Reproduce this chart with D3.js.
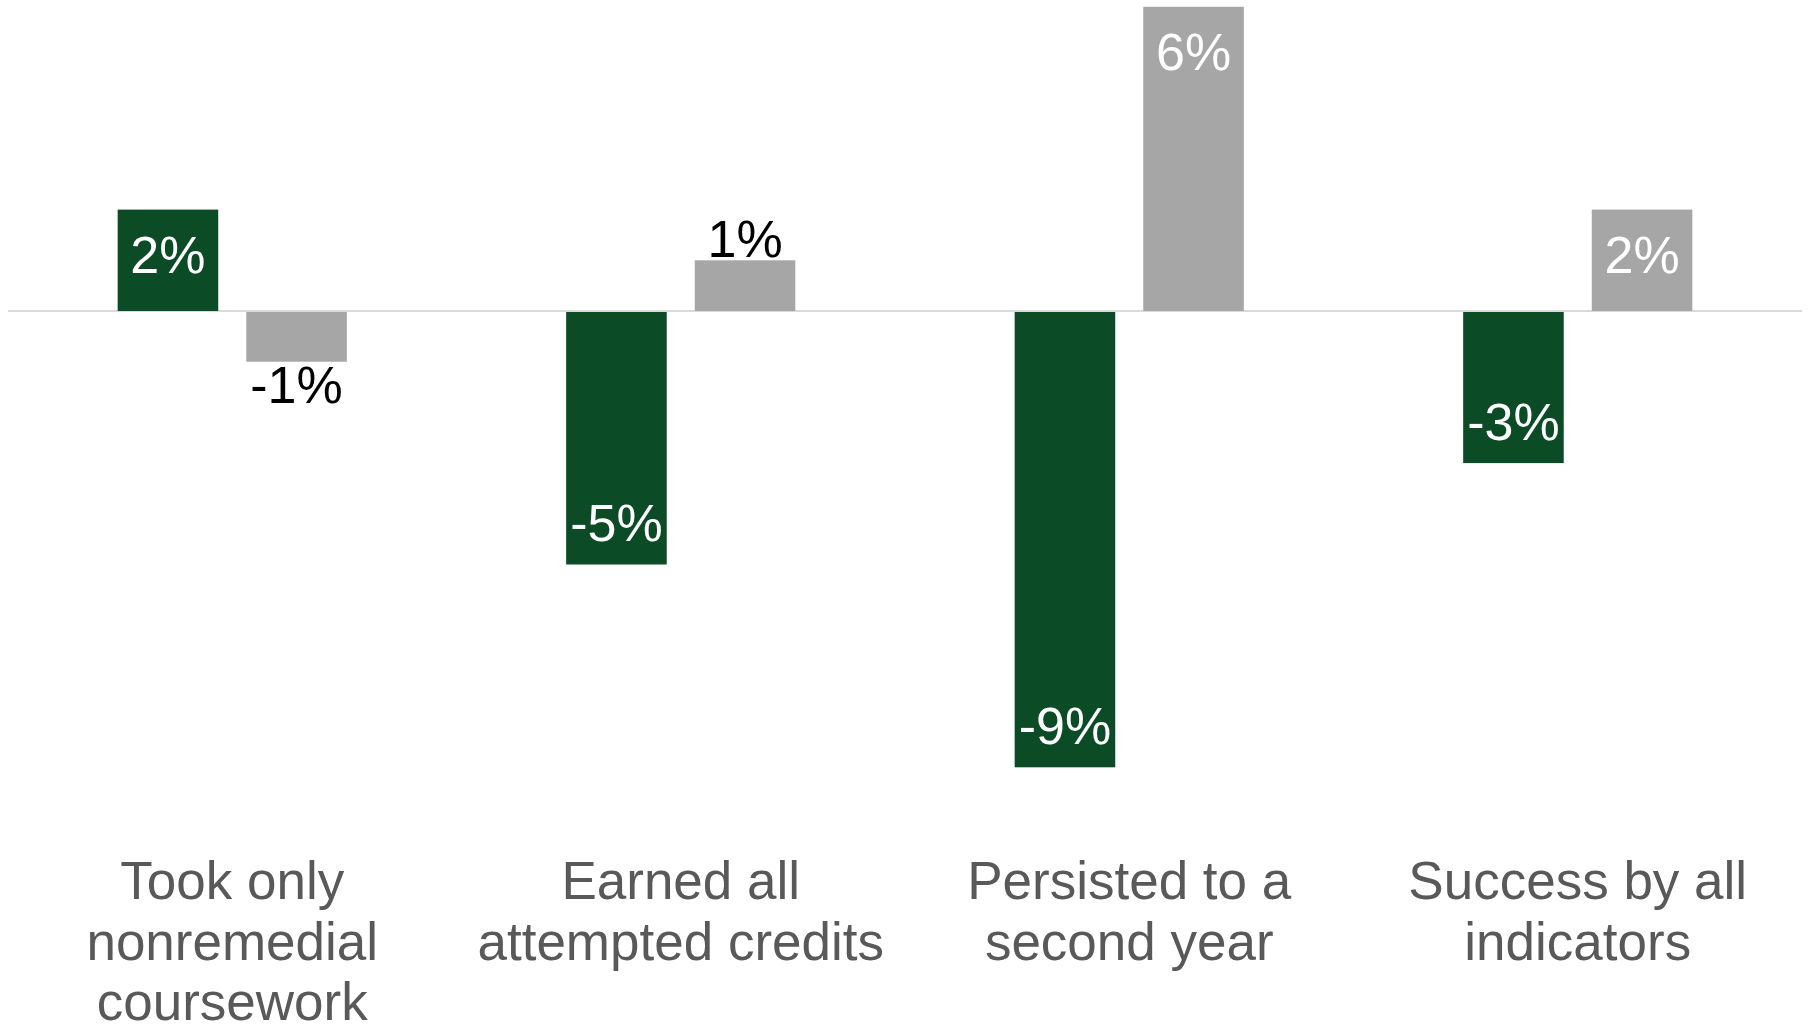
<!DOCTYPE html>
<html>
<head>
<meta charset="utf-8">
<script src="https://cdn.jsdelivr.net/npm/d3@7"></script>
<style>
  html, body { margin: 0; padding: 0; background: #ffffff; }
  svg { display: block; }
  text { font-family: "Liberation Sans", Arial, sans-serif; }
</style>
</head>
<body>
<svg id="chart" width="1808" height="1026"></svg>
<script>
// ---- Data ----
const categories = [
  ["Took only", "nonremedial", "coursework"],
  ["Earned all", "attempted credits"],
  ["Persisted to a", "second year"],
  ["Success by all", "indicators"]
];
const seriesNames = ["Series 1", "Series 2"];
const series1 = [0.02, -0.05, -0.09, -0.03];
const series2 = [-0.01, 0.01, 0.06, 0.02];
const seriesColors = ["#0B4C26", "#A6A6A6"];

// ---- Layout ----
const svg = d3.select("#chart");
const catKeys = categories.map((c, i) => i);

const x0 = d3.scaleBand()
  .domain(catKeys)
  .range([8, 1802])
  .paddingInner(0.489)
  .paddingOuter(0.2445);

const x1 = d3.scaleBand()
  .domain([0, 1])
  .range([0, x0.bandwidth()])
  .paddingInner(0.218)
  .paddingOuter(0);

const y = d3.scaleLinear()
  .domain([-0.09, 0.06])
  .range([767.3, 6.8]);

const pct = d3.format(".0%");
const fmt = v => pct(v).replace("\u2212", "-");

const rows = catKeys.map(i => ({ i, vals: [series1[i], series2[i]] }));

// zero line
svg.append("line")
  .attr("x1", 8).attr("x2", 1802)
  .attr("y1", y(0)).attr("y2", y(0))
  .attr("stroke", "#D9D9D9")
  .attr("stroke-width", 2);

const groups = svg.selectAll("g.cat")
  .data(rows)
  .join("g")
  .attr("class", "cat")
  .attr("transform", d => `translate(${x0(d.i)},0)`);

const bars = groups.selectAll("g.bar")
  .data(d => d.vals.map((v, s) => ({ v, s })))
  .join("g")
  .attr("class", "bar");

bars.append("rect")
  .attr("x", d => x1(d.s))
  .attr("width", x1.bandwidth())
  .attr("y", d => Math.min(y(d.v), y(0) + (d.v < 0 ? 1 : 0)))
  .attr("height", d => Math.abs(y(d.v) - y(0)) - (d.v < 0 ? 1 : 0))
  .attr("fill", d => seriesColors[d.s]);

const isInside = v => Math.abs(v) >= 0.02 - 1e-9;

bars.append("text")
  .attr("x", d => x1(d.s) + x1.bandwidth() / 2)
  .attr("y", d => {
    const inside = isInside(d.v);
    if (d.v >= 0) return inside ? y(d.v) + 63.5 : y(d.v) - 3;
    return inside ? y(d.v) - 23.3 : y(d.v) + 41.6;
  })
  .attr("text-anchor", "middle")
  .attr("font-size", 52)
  .attr("fill", d => isInside(d.v) ? "#FFFFFF" : "#000000")
  .text(d => fmt(d.v));

// category labels
svg.selectAll("text.catlabel")
  .data(rows)
  .join("text")
  .attr("class", "catlabel")
  .attr("x", d => x0(d.i) + x0.bandwidth() / 2)
  .attr("y", 899)
  .attr("text-anchor", "middle")
  .attr("font-size", 53)
  .attr("fill", "#595959")
  .selectAll("tspan")
  .data(d => categories[d.i].map((t, k) => ({ t, k, cx: x0(d.i) + x0.bandwidth() / 2 })))
  .join("tspan")
  .attr("x", d => d.cx)
  .attr("dy", d => d.k === 0 ? 0 : 60.5)
  .text(d => d.t);
</script>
</body>
</html>
